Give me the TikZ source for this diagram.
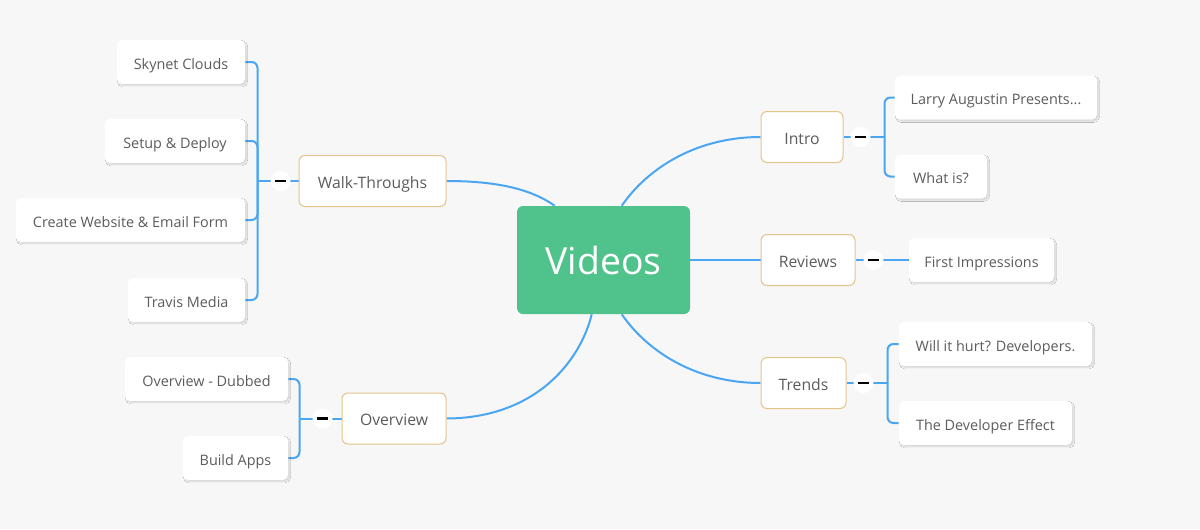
\documentclass[tikz,border=0pt]{standalone}
\usepackage{fontspec}
\setmainfont{Open Sans}
\usetikzlibrary{calc,shadows.blur,backgrounds}
\definecolor{canvas}{HTML}{F7F7F7}
\definecolor{wire}{HTML}{4AA6F2}
\definecolor{topic}{HTML}{50C28B}
\definecolor{rim}{HTML}{E3C58A}
\definecolor{ink}{HTML}{5C5C5C}
\newcommand\pxu{0.75pt}
\begin{document}
\begin{tikzpicture}[x=0.75pt,y=-0.75pt,
  conn/.style={draw=wire, line width=2*\pxu},
  root/.style={text height=21pt, text depth=0pt, fill=topic,
    rounded corners=6*\pxu, text=white,
    font=\fontsize{28}{32}\selectfont, minimum width=173*\pxu,
    minimum height=108*\pxu, inner sep=0pt},
  branch/.style={text height=11.2pt, text depth=0pt, draw=rim, fill=white,
    line width=1*\pxu, rounded corners=6*\pxu, text=ink,
    font=\fontsize{11.8}{14}\selectfont, minimum height=51*\pxu, inner xsep=2pt},
  leaf/.style={text height=11.2pt, text depth=0pt, fill=white,
    rounded corners=5*\pxu, text=ink,
    font=\fontsize{10.8}{13}\selectfont, minimum height=44*\pxu, inner xsep=2pt,
    blur shadow={shadow xshift=1.1pt, shadow yshift=-1.3pt,
      shadow blur radius=0.9pt, shadow blur steps=6, shadow opacity=14}},
  toggle/.style={circle, fill=white, minimum size=20*\pxu, inner sep=0pt,
    path picture={\draw[black, line width=1.6pt]
      ([xshift=-3.8pt]path picture bounding box.center) --
      ([xshift=3.8pt]path picture bounding box.center);}}
]
\useasboundingbox (0,0) rectangle (1200,529);

% central topic
\node[root] (videos) at (603.5,260) {Videos};

% main branches
\node[branch, minimum width=147*\pxu] (wt)     at (372.5,181)   {Walk-Throughs};
\node[branch, minimum width=104*\pxu] (ov)     at (394,418.5)   {Overview};
\node[branch, minimum width=82*\pxu]  (intro)  at (802,137)     {Intro};
\node[branch, minimum width=94*\pxu]  (rev)    at (808,260)     {Reviews};
\node[branch, minimum width=85*\pxu]  (trends) at (803.5,383)   {Trends};

% leaves of Walk-Throughs
\node[leaf, minimum width=128*\pxu] (sky)    at (181,62)    {Skynet Clouds};
\node[leaf, minimum width=140*\pxu] (setup)  at (175,141)   {Setup \& Deploy};
\node[leaf, minimum width=229*\pxu] (web)    at (130.5,220) {Create Website \& Email Form};
\node[leaf, minimum width=117*\pxu] (travis) at (186.5,300) {Travis Media};

% leaves of Overview
\node[leaf, minimum width=163*\pxu] (dub)    at (206.5,379) {Overview - Dubbed};
\node[leaf, minimum width=105*\pxu] (apps)   at (235.5,458) {Build Apps};

% leaves of Intro
\node[leaf, minimum width=202*\pxu] (larry)  at (996,97.5)  {Larry Augustin Presents...};
\node[leaf, minimum width=92*\pxu]  (what)   at (941,176.5) {What is?};

% leaf of Reviews
\node[leaf, minimum width=145*\pxu] (first)  at (981.5,260) {First Impressions};

% leaves of Trends
\node[leaf, minimum width=193*\pxu] (hurt)   at (995.5,344) {Will it hurt? Developers.};
\node[leaf, minimum width=173*\pxu] (effect) at (985.5,423) {The Developer Effect};

% bracket junctions
\coordinate (wtj)  at ($(wt.west)+(-41,0)$);
\coordinate (ovj)  at ($(ov.west)+(-42,0)$);
\coordinate (inj)  at ($(intro.east)+(41,0)$);
\coordinate (trj)  at ($(trends.east)+(41,0)$);

% collapse toggles
\node[toggle] (wtt) at ($(wt.west)+(-18,0)$) {};
\node[toggle] (ovt) at ($(ov.west)+(-19,0)$) {};
\node[toggle] (int) at ($(intro.east)+(17,0)$) {};
\node[toggle] (rvt) at ($(rev.east)+(18,0)$) {};
\node[toggle] (trt) at ($(trends.east)+(17,0)$) {};

\begin{scope}[on background layer]
  \fill[canvas] (0,0) rectangle (1200,529);

  % curves from the central topic
  \draw[conn] (wt.east) .. controls (505,181) and (535,192) .. ($(videos.north west)+(38,0)$);
  \draw[conn] (ov.east) .. controls (535,418) and (580,362) .. ($(videos.south west)+(75,0)$);
  \draw[conn] ($(videos.north west)+(105,0)$) .. controls (650,165) and (700,137) .. (intro.west);
  \draw[conn] ($(videos.south west)+(105,0)$) .. controls (650,355) and (700,383) .. (trends.west);
  \draw[conn] (videos.east) -- (rev.west);

  % Walk-Throughs bracket
  \draw[conn] (wt.west) -- (wtj);
  \foreach \n in {sky,setup,web,travis}
    \draw[conn, rounded corners=6*\pxu] (wtj) |- (\n.east);

  % Overview bracket
  \draw[conn] (ov.west) -- (ovj);
  \foreach \n in {dub,apps}
    \draw[conn, rounded corners=6*\pxu] (ovj) |- (\n.east);

  % Intro bracket
  \draw[conn] (intro.east) -- (inj);
  \foreach \n in {larry,what}
    \draw[conn, rounded corners=6*\pxu] (inj) |- (\n.west);

  % Reviews link
  \draw[conn] (rev.east) -- (first.west);

  % Trends bracket
  \draw[conn] (trends.east) -- (trj);
  \foreach \n in {hurt,effect}
    \draw[conn, rounded corners=6*\pxu] (trj) |- (\n.west);
\end{scope}
\end{tikzpicture}
\end{document}
